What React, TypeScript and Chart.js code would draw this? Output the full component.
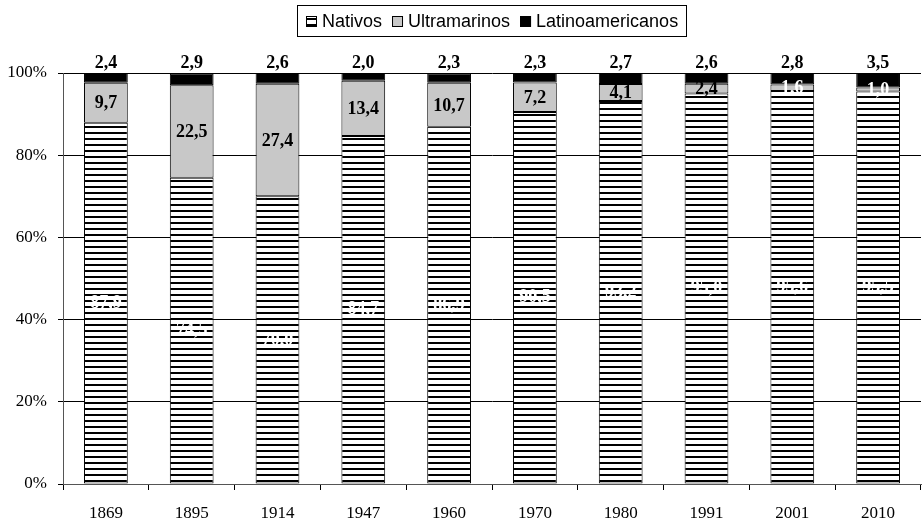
import React, { useEffect, useRef } from 'react';
import { Chart, registerables } from 'chart.js';
Chart.register(...registerables);

const years = ['1869', '1895', '1914', '1947', '1960', '1970', '1980', '1991', '2001', '2010'];
const nativos = [87.9, 74.5, 70.0, 84.7, 86.9, 90.5, 93.2, 95.0, 95.6, 95.5];
const ultramarinos = [9.7, 22.5, 27.4, 13.4, 10.7, 7.2, 4.1, 2.4, 1.6, 1.0];
const latinoamericanos = [2.4, 2.9, 2.6, 2.0, 2.3, 2.3, 2.7, 2.6, 2.8, 3.5];
const seriesNames = ['Nativos', 'Ultramarinos', 'Latinoamericanos'];
const ultramarinosWhiteLabel = ['2001', '2010'];
const yTickValues = [0, 20, 40, 60, 80, 100];

const SERIF = '"Liberation Serif", "Times New Roman", serif';
const SANS = '"Liberation Sans", Arial, sans-serif';
const GREY = '#c8c8c8';

function fmt(v: number) {
  return v.toFixed(1).replace('.', ',');
}

function makeHatch(): CanvasPattern | string {
  const c = document.createElement('canvas');
  c.width = 8;
  c.height = 6;
  const g = c.getContext('2d');
  if (!g) return '#fff';
  g.fillStyle = '#fff';
  g.fillRect(0, 0, 8, 6);
  g.fillStyle = '#000';
  g.fillRect(0, 0, 8, 2);
  const p = g.createPattern(c, 'repeat');
  return p || '#fff';
}

export default function App() {
  const ref = useRef<HTMLCanvasElement>(null);

  useEffect(() => {
    const canvas = ref.current;
    if (!canvas) return;
    const hatch = makeHatch();
    const fills: (string | CanvasPattern)[] = [hatch, GREY, '#000'];

    const labelPlugin = {
      id: 'labels',
      afterDatasetsDraw(chart: any) {
        const ctx = chart.ctx as CanvasRenderingContext2D;
        ctx.save();
        ctx.font = `bold 18px ${SERIF}`;
        ctx.textAlign = 'center';
        // Nativos
        const m0 = chart.getDatasetMeta(0);
        m0.data.forEach((el: any, i: number) => {
          const { x, y, base } = el.getProps(['x', 'y', 'base'], true);
          ctx.fillStyle = '#fff';
          ctx.textBaseline = 'middle';
          ctx.fillText(fmt(nativos[i]), x, (y + base) / 2);
        });
        const m1 = chart.getDatasetMeta(1);
        m1.data.forEach((el: any, i: number) => {
          const { x, y, base } = el.getProps(['x', 'y', 'base'], true);
          ctx.fillStyle = ultramarinosWhiteLabel.includes(years[i]) ? '#fff' : '#000';
          ctx.textBaseline = 'middle';
          ctx.fillText(fmt(ultramarinos[i]), x, (y + base) / 2 + 1);
        });
        const m2 = chart.getDatasetMeta(2);
        m2.data.forEach((el: any, i: number) => {
          const { x, y } = el.getProps(['x', 'y'], true);
          ctx.fillStyle = '#000';
          ctx.textBaseline = 'alphabetic';
          ctx.fillText(fmt(latinoamericanos[i]), x, Math.min(y, chart.chartArea.top) - 5);
        });
        ctx.restore();
      },
      afterDraw(chart: any) {
        const ctx = chart.ctx as CanvasRenderingContext2D;
        ctx.save();
        ctx.font = `18px ${SANS}`;
        const box = 11;
        const gapBox = 5;
        const gapItem = 10;
        const widths = seriesNames.map((n) => ctx.measureText(n).width);
        let total = 0;
        widths.forEach((w, i) => {
          total += box + gapBox + w + (i < widths.length - 1 ? gapItem : 0);
        });
        const ca = chart.chartArea;
        const cx = (ca.left + ca.right) / 2;
        let x = Math.round(cx - total / 2);
        const cy = 21.5;
        ctx.strokeStyle = '#000';
        ctx.lineWidth = 1;
        ctx.strokeRect(Math.round(x - 9) + 0.5, 5.5, Math.round(total + 17), 31);
        ctx.textBaseline = 'middle';
        ctx.textAlign = 'left';
        seriesNames.forEach((n, i) => {
          ctx.fillStyle = fills[i] as any;
          ctx.fillRect(x, cy - 5.5, box, box);
          ctx.strokeStyle = '#000';
          ctx.strokeRect(x + 0.5, cy - 5, box - 1, box - 1);
          ctx.fillStyle = '#000';
          ctx.fillText(n, x + box + gapBox, cy + 1);
          x += box + gapBox + widths[i] + gapItem;
        });
        ctx.restore();
      },
    };

    const tickFont = { family: SERIF, size: 17 };

    const chart = new Chart(canvas, {
      type: 'bar',
      data: {
        labels: years,
        datasets: [
          { label: seriesNames[0], data: nativos, backgroundColor: hatch as any },
          { label: seriesNames[1], data: ultramarinos, backgroundColor: GREY },
          { label: seriesNames[2], data: latinoamericanos, backgroundColor: '#000' },
        ].map((d) => ({
          ...d,
          borderColor: '#000',
          borderWidth: 1,
          borderSkipped: false,
          barPercentage: 0.51,
          categoryPercentage: 1,
        })),
      },
      options: {
        animation: false,
        responsive: false,
        maintainAspectRatio: false,
        layout: { padding: { top: 73, right: 2, left: 0, bottom: 0 } },
        plugins: { legend: { display: false }, tooltip: { enabled: false } },
        scales: {
          x: {
            stacked: true,
            grid: { offset: true, drawOnChartArea: false, tickLength: 6, color: '#000' },
            border: { color: '#555' },
            ticks: { font: tickFont, color: '#000', padding: 13 },
            afterFit: (s: any) => {
              s.height = 40;
            },
          },
          y: {
            stacked: true,
            min: 0,
            max: 100,
            afterBuildTicks: (s: any) => {
              s.ticks = yTickValues.map((v) => ({ value: v }));
            },
            ticks: {
              font: tickFont,
              color: '#000',
              padding: 11,
              callback: (v: any) => v + '%',
            },
            grid: { color: '#000', tickLength: 5 },
            border: { color: '#555' },
            afterFit: (s: any) => {
              s.width = 63;
            },
          },
        },
      },
      plugins: [labelPlugin],
    });
    return () => chart.destroy();
  }, []);

  return (
    <div style={{ position: 'absolute', left: 0, top: 0, width: 923, height: 524, background: '#fff' }}>
      <canvas ref={ref} width={923} height={524} />
    </div>
  );
}
